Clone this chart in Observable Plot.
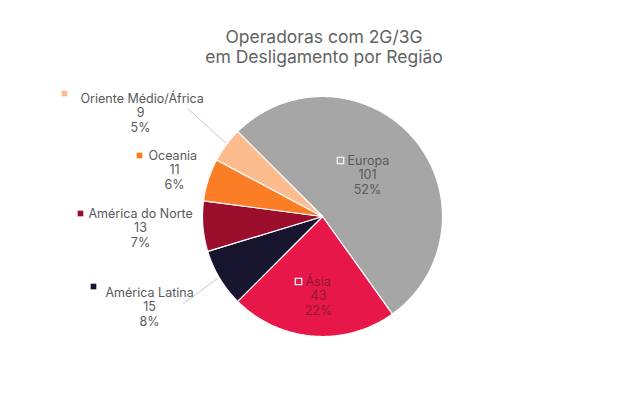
<!DOCTYPE html>
<html>
<head>
<meta charset="utf-8">
<script src="https://cdn.jsdelivr.net/npm/d3@7"></script>
<script src="https://cdn.jsdelivr.net/npm/@observablehq/plot@0.6"></script>
<style>
  html, body { margin: 0; padding: 0; background: #fff; }
  #title {
    width: 626px; height: 80px; box-sizing: border-box;
    padding: 27px 0 0 22px; text-align: center;
    font-family: Inter, "Liberation Sans", sans-serif; font-size: 17.5px;
    line-height: 19.5px; color: #636363; font-weight: 400;
  }
  #chart svg { display: block; }
</style>
</head>
<body>
<div id="title">Operadoras com 2G/3G<br>em Desligamento por Região</div>
<div id="chart"></div>
<script>
// ---- data ----
const regions = ["Europa", "Ásia", "América Latina", "América do Norte", "Oceania", "Oriente Médio/África"];
const values = [101, 43, 15, 13, 11, 9];
const percents = [52, 22, 8, 7, 6, 5];
const colors = ["#a6a6a6", "#e8174a", "#17152e", "#9a0e2c", "#fb7d25", "#fdbc8d"];

// ---- layout (not data) ----
const cx = 322, cy = 216, R = 120, startDeg = -45;
// label positions: marker [x,y], name line [x,y,anchor], block center x, first line y
const layout = [
  {inside: true, marker: [340, 160], name: [347, 160], cxText: 367, y0: 160},
  {inside: true, marker: [298, 281], name: [305, 281], cxText: 318, y0: 281},
  {marker: [93, 286], name: [105, 292], cxText: 149, y0: 292},
  {marker: [80, 213], name: [88, 213], cxText: 140, y0: 213},
  {marker: [139, 155], name: [148, 155], cxText: 174, y0: 155},
  {marker: [64, 93], name: [80, 98], cxText: 140, y0: 98}
];
const leaders = [
  {i: 5, x1: 187, y1: 108, x2: 226, y2: 143},
  {i: 2, x1: 183, y1: 303, x2: 217, y2: 278}
];
const lineGap = 14.8;

// ---- build slices ----
const total = d3.sum(values);
const pie = d3.pie().sort(null).value(d => d)
  .startAngle(startDeg * Math.PI / 180).endAngle((startDeg + 360) * Math.PI / 180);
const arcs = pie(values);
const poly = [];
arcs.forEach((a, i) => {
  poly.push({name: regions[i], x: cx, y: cy});
  const n = Math.max(2, Math.ceil((a.endAngle - a.startAngle) * 180 / Math.PI));
  for (let k = 0; k <= n; k++) {
    const t = a.startAngle + (a.endAngle - a.startAngle) * k / n;
    poly.push({name: regions[i], x: cx + R * Math.sin(t), y: cy - R * Math.cos(t)});
  }
});

const nameRows = regions.map((r, i) => ({name: r, x: layout[i].name[0], y: layout[i].name[1], inside: !!layout[i].inside}));
const numRows = [];
regions.forEach((r, i) => {
  numRows.push({name: r, text: String(values[i]), x: layout[i].cxText, y: layout[i].y0 + lineGap, inside: !!layout[i].inside});
  numRows.push({name: r, text: percents[i] + "%", x: layout[i].cxText, y: layout[i].y0 + 2 * lineGap, inside: !!layout[i].inside});
});
const markerRows = regions.map((r, i) => ({name: r, x: layout[i].marker[0], y: layout[i].marker[1], inside: !!layout[i].inside}));

const textColor = d => d.name === "Ásia" ? "#8c1a33" : "#595959";

const chart = Plot.plot({
  width: 626, height: 313,
  margin: 0, marginTop: 0, marginRight: 0, marginBottom: 0, marginLeft: 0,
  x: {domain: [0, 626], range: [0, 626], axis: null},
  y: {domain: [80, 393], range: [0, 313], axis: null},
  color: {domain: regions, range: colors},
  style: {fontFamily: "Inter, 'Liberation Sans', sans-serif"},
  marks: [
    Plot.line(poly, {x: "x", y: "y", z: "name", fill: "name", stroke: "white", strokeWidth: 1.2, curve: "linear-closed"}),
    Plot.link(leaders, {x1: "x1", y1: "y1", x2: "x2", y2: "y2", stroke: "#c8c8c8", strokeWidth: 1}),
    Plot.dot(markerRows.filter(d => !d.inside), {x: "x", y: "y", symbol: "square", r: 3.2, fill: "name", stroke: "none"}),
    Plot.dot(markerRows.filter(d => d.inside), {x: "x", y: "y", symbol: "square", r: 3.6, fill: "name", stroke: "#f2f2f2", strokeWidth: 1.3}),
    Plot.text(nameRows, {x: "x", y: "y", text: "name", textAnchor: "start", fontSize: 12.5, fill: textColor}),
    Plot.text(numRows, {x: "x", y: "y", text: "text", textAnchor: "middle", fontSize: 12.5, fill: textColor})
  ]
});
document.getElementById("chart").appendChild(chart);
</script>
</body>
</html>
